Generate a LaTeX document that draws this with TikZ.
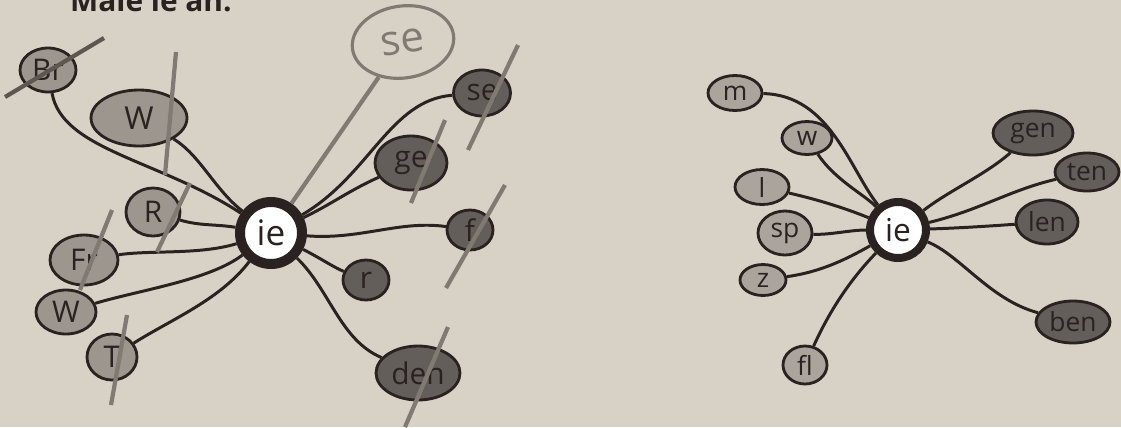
\documentclass[tikz,border=0pt]{standalone}
\usepackage{fontspec}
\setmainfont{Open Sans}
\usetikzlibrary{shapes.geometric}
\definecolor{paper}{RGB}{216,210,198}
\definecolor{ink}{RGB}{42,34,32}
\definecolor{pencil}{RGB}{128,122,114}
\definecolor{midfill}{RGB}{156,150,142}
\definecolor{darkfill}{RGB}{100,94,90}
\definecolor{palefill}{RGB}{170,164,156}
\begin{document}
\begin{tikzpicture}[x=0.02cm,y=-0.02cm,
		bubble/.style={ellipse,draw=ink,line width=1.6pt,inner sep=0pt,text=ink,font=\fontsize{17}{17}\selectfont},
		light/.style={bubble,fill=midfill},
		dark/.style={bubble,fill=darkfill},
		pale/.style={bubble,fill=palefill,font=\fontsize{15}{15}\selectfont},
		deep/.style={bubble,fill=darkfill,font=\fontsize{15}{15}\selectfont},
		hub/.style={circle,draw=ink,fill=white,inner sep=0pt,text=ink},
		wire/.style={draw=ink,line width=1.7pt},
		strike/.style={draw=pencil,line width=2.4pt}]
		\useasboundingbox (0,0) rectangle (1121,427);
		\clip (0,0) rectangle (1121,427);
		\fill [paper] (0,0) rectangle (1121,427);
		\node [anchor=base west,text=ink,font=\fontsize{17}{17}\bfseries\selectfont] (task) at (64,11) {Male ie an.};
	% left web
		\node [hub,line width=0.2cm,minimum size=1.24cm,font=\fontsize{20}{20}\selectfont] (ie) at (271,233) {ie};
		\node [light,minimum width=1.12cm,minimum height=0.88cm] (br) at (48,70) {Br};
		\node [light,minimum width=1.92cm,minimum height=1.12cm,font=\fontsize{18}{18}\selectfont] (wbig) at (139,118) {W};
		\node [light,minimum width=1.08cm,minimum height=0.96cm] (r) at (153,212) {R};
		\node [light,minimum width=1.36cm,minimum height=1.0cm] (fr) at (84,260) {Fr};
		\node [light,minimum width=1.2cm,minimum height=0.88cm] (wsmall) at (66,312) {W};
		\node [light,minimum width=1.0cm,minimum height=0.92cm] (t) at (112,357) {T};
		\node [dark,minimum width=1.14cm,minimum height=0.92cm] (se) at (482,93) {se};
		\node [dark,minimum width=1.44cm,minimum height=1.08cm] (ge) at (411,163) {ge};
		\node [dark,minimum width=0.92cm,minimum height=0.8cm] (f) at (470,230) {f};
		\node [dark,minimum width=0.92cm,minimum height=0.8cm] (rr) at (366,280) {r};
		\node [dark,minimum width=1.68cm,minimum height=1.08cm] (den) at (418,373) {den};
		\node [ellipse,draw=pencil,line width=1.8pt,minimum width=2.04cm,minimum height=1.44cm,text=pencil,rotate=8,font=\fontsize{24}{24}\selectfont] (sehand) at (403,42) {se};
	% left wires
		\draw [wire] (br) .. controls (62,150) and (160,160) .. (ie);
		\draw [wire] (wbig) .. controls (200,155) and (215,190) .. (ie);
		\draw [wire] (r) .. controls (200,226) and (215,224) .. (ie);
		\draw [wire] (fr) .. controls (150,250) and (200,255) .. (ie);
		\draw [wire] (wsmall) .. controls (140,290) and (210,280) .. (ie);
		\draw [wire] (t) .. controls (170,320) and (220,300) .. (ie);
		\draw [wire] (se) .. controls (390,100) and (370,175) .. (ie);
		\draw [wire] (ge) .. controls (350,190) and (330,205) .. (ie);
		\draw [wire] (f) .. controls (400,220) and (360,240) .. (ie);
		\draw [wire] (rr) .. controls (335,268) and (320,258) .. (ie);
		\draw [wire] (den) .. controls (340,340) and (330,290) .. (ie);
	% pencil marks
		\draw [strike] (sehand) -- (ie);
		\draw [strike,draw=pencil!60!ink] (5,97) -- (104,38);
		\draw [strike] (176,52) -- (165,175);
		\draw [strike] (190,183) -- (157,252);
		\draw [strike] (112,210) -- (80,290);
		\draw [strike] (127,315) -- (111,405);
		\draw [strike] (518,45) -- (468,150);
		\draw [strike] (445,120) -- (411,203);
		\draw [strike] (505,185) -- (446,288);
		\draw [strike] (448,327) -- (405,427);
	% right web
		\node [hub,line width=0.16cm,minimum size=1.12cm,font=\fontsize{18}{18}\selectfont] (ie2) at (898,230) {ie};
		\node [pale,minimum width=1.08cm,minimum height=0.7cm] (m) at (735,93) {m};
		\node [pale,minimum width=1.0cm,minimum height=0.66cm] (w) at (807,138) {w};
		\node [pale,minimum width=1.08cm,minimum height=0.7cm] (l) at (762,187) {l};
		\node [pale,minimum width=1.08cm,minimum height=0.88cm] (sp) at (785,233) {sp};
		\node [pale,minimum width=0.92cm,minimum height=0.62cm] (z) at (763,280) {z};
		\node [pale,minimum width=0.88cm,minimum height=0.76cm] (fl) at (805,365) {fl};
		\node [deep,minimum width=1.6cm,minimum height=0.88cm] (gen) at (1033,133) {gen};
		\node [deep,minimum width=1.28cm,minimum height=0.76cm] (ten) at (1087,172) {ten};
		\node [deep,minimum width=1.24cm,minimum height=0.88cm] (len) at (1047,222) {len};
		\node [deep,minimum width=1.48cm,minimum height=0.84cm] (ben) at (1073,322) {ben};
	% right wires
		\draw [wire] (m) .. controls (830,95) and (850,170) .. (ie2);
		\draw [wire] (w) .. controls (835,180) and (865,195) .. (ie2);
		\draw [wire] (l) .. controls (820,200) and (850,210) .. (ie2);
		\draw [wire] (sp) .. controls (830,235) and (850,230) .. (ie2);
		\draw [wire] (z) .. controls (820,272) and (845,260) .. (ie2);
		\draw [wire] (fl) .. controls (830,310) and (850,280) .. (ie2);
		\draw [wire] (gen) .. controls (985,175) and (950,190) .. (ie2);
		\draw [wire] (ten) .. controls (1010,190) and (980,210) .. (ie2);
		\draw [wire] (len) .. controls (990,226) and (960,228) .. (ie2);
		\draw [wire] (ben) .. controls (990,300) and (960,255) .. (ie2);
\end{tikzpicture}
\end{document}
